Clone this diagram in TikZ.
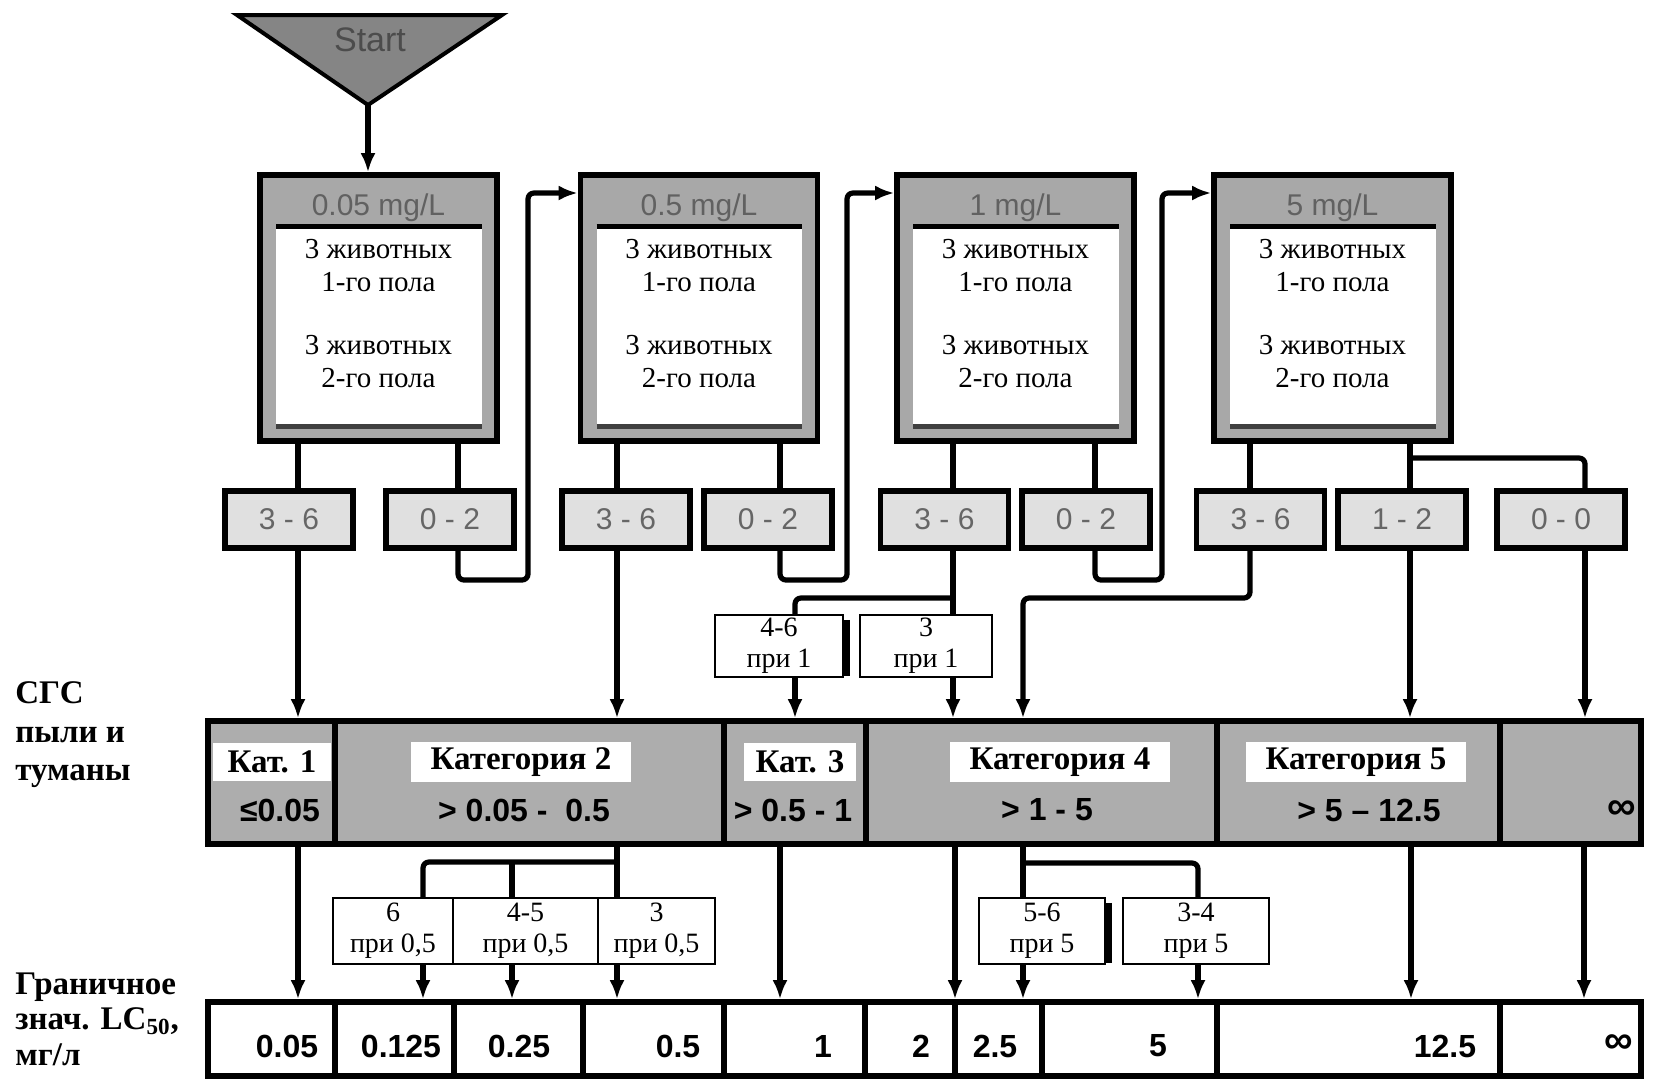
\documentclass[tikz,border=0pt]{standalone}
\usepackage{fontspec}
\setmainfont{Liberation Serif}
\setsansfont{Liberation Sans}
\usetikzlibrary{arrows.meta}
\definecolor{gbox}{gray}{0.66}
\definecolor{gcat}{gray}{0.68}
\definecolor{gtri}{gray}{0.52}
\definecolor{gsmall}{gray}{0.88}
\begin{document}
\begin{tikzpicture}[x=0.5pt,y=-0.5pt,
  conn/.style={line width=2.6pt, rounded corners=3pt},
  arr/.style={conn,-{Latex[length=9.5pt,width=7.5pt]}},
  bigbox/.style={draw,line width=2.8pt,fill=gbox,minimum width=118.5pt,minimum height=133pt,inner sep=0pt},
  hdr/.style={font=\sffamily\fontsize{15}{18}\selectfont,text=black!62},
  body/.style={font=\fontsize{14.5}{16.5}\selectfont,align=center},
  smallbox/.style={draw,line width=2.8pt,fill=gsmall,minimum width=64pt,minimum height=28.5pt,inner sep=0pt,font=\sffamily\fontsize{15}{18}\selectfont,text=black!60},
  subbox/.style={draw,line width=1.2pt,fill=white,minimum height=31pt,inner sep=0pt,align=center,font=\fontsize{14}{15.5}\selectfont},
  bar/.style={draw,line width=2.8pt,minimum width=716.5pt,inner sep=0pt},
  divline/.style={line width=2.6pt},
  cattitle/.style={fill=white,inner xsep=10pt,inner ysep=3pt,minimum height=19pt,font=\bfseries\fontsize{16.5}{18}\selectfont},
  catnum/.style={font=\sffamily\bfseries\fontsize{16}{18}\selectfont},
  lcnum/.style={font=\sffamily\bfseries\fontsize{16}{18}\selectfont},
  sidelabel/.style={anchor=west,align=left,inner sep=0pt},
]
\useasboundingbox (0,0) rectangle (1654,1089);

% Start triangle
\draw[line width=2pt,fill=gtri] (237,15) -- (502,15) -- (368,105) -- cycle;
\node[font=\sffamily\fontsize{17}{20}\selectfont,text=black!70] (start) at (370,40) {Start};
\coordinate (apex) at (368,105);

% big boxes
\foreach \n/\cx/\hd in {b1/378.5/{0.05 mg/L}, b2/699/{0.5 mg/L}, b3/1015.5/{1 mg/L}, b4/1332.5/{5 mg/L}}{
  \node[bigbox] (\n) at (\cx,308) {};
  \fill[white] ([xshift=9.5pt,yshift=-27pt]\n.north west) rectangle ([xshift=-9pt,yshift=8.5pt]\n.south east);
  \draw[line width=2.4pt] ([xshift=9.5pt,yshift=-27pt]\n.north west) -- ([xshift=-9pt,yshift=-27pt]\n.north east);
  \draw[line width=2.4pt,black!75] ([xshift=9.5pt,yshift=8.5pt]\n.south west) -- ([xshift=-9pt,yshift=8.5pt]\n.south east);
  \node[hdr] (\n-h) at (\cx,208) {\hd};
  \node[body] (\n-t) at (\cx,314) {3 животных\\1-го пола\\[15pt]3 животных\\2-го пола};
}

% small boxes
\node[smallbox] (s1a) at (289,519.5) {3 - 6};
\node[smallbox] (s1b) at (450,519.5) {0 - 2};
\node[smallbox] (s2a) at (626,519.5) {3 - 6};
\node[smallbox] (s2b) at (768,519.5) {0 - 2};
\node[smallbox] (s3a) at (944.5,519.5) {3 - 6};
\node[smallbox] (s3b) at (1086,519.5) {0 - 2};
\node[smallbox] (s4a) at (1260.5,519.5) {3 - 6};
\node[smallbox] (s4b) at (1402,519.5) {1 - 2};
\node[smallbox] (s4c) at (1561,519.5) {0 - 0};

% sub boxes (при 1)
\node[subbox,minimum width=64pt] (p1) at (779,646) {4-6\\при 1};
\node[subbox,minimum width=66pt] (p2) at (926,646) {3\\при 1};
\draw[line width=3pt] ([xshift=1.2pt,yshift=-3pt]p1.north east) -- ([xshift=1.2pt,yshift=1pt]p1.south east);

% category bar
\node[bar,fill=gcat,minimum height=61.5pt] (cat) at (924.5,782.5) {};
\foreach \x in {335,724,866,1217,1500} \draw[divline] (\x,0 |- cat.north) -- (\x,0 |- cat.south);
\node[cattitle,minimum width=59pt,inner xsep=0pt] (c1) at (272,762) {Кат. 1};
\node[cattitle] (c2) at (521,762) {Категория 2};
\node[cattitle,inner xsep=6pt] (c3) at (800,762) {Кат. 3};
\node[cattitle] (c4) at (1060,762) {Категория 4};
\node[cattitle] (c5) at (1356,762) {Категория 5};
\node[catnum] (n1) at (280,810) {≤0.05};
\node[catnum] (n2) at (524,810) {> 0.05 -\ \ 0.5};
\node[catnum] (n3) at (793,810) {> 0.5 - 1};
\node[catnum] (n4) at (1047,810) {> 1 - 5};
\node[catnum] (n5) at (1369,810) {> 5 – 12.5};
\node[catnum,font=\sffamily\bfseries\fontsize{20}{20}\selectfont] (n6) at (1622,810) {∞};

% sub boxes below
\node[subbox,minimum width=60pt,minimum height=33pt] (q1) at (393,931) {6\\при 0,5};
\node[subbox,minimum width=72.5pt,minimum height=33pt] (q2) at (525.5,931) {4-5\\при 0,5};
\node[subbox,minimum width=58.5pt,minimum height=33pt] (q3) at (656.5,931) {3\\при 0,5};
\node[subbox,minimum width=63pt,minimum height=33pt] (r1) at (1042,931) {5-6\\при 5};
\node[subbox,minimum width=73pt,minimum height=33pt] (r2) at (1196,931) {3-4\\при 5};
\draw[line width=3pt] ([xshift=1.2pt,yshift=-3pt]r1.north east) -- ([xshift=1.2pt,yshift=1pt]r1.south east);

% LC bar
\node[bar,fill=white,minimum height=37pt] (lc) at (924.5,1039) {};
\foreach \x in {335,454,583,724,865,955,1042,1217,1500} \draw[divline] (\x,0 |- lc.north) -- (\x,0 |- lc.south);
\foreach \x/\t in {287/0.05, 401/0.125, 519/0.25, 678/0.5, 823/1, 921/2, 995/2.5, 1158/5, 1445/12.5}
  \node[lcnum] (lc-\x) at (\x,1046) {\t};
\node[lcnum,font=\sffamily\bfseries\fontsize{20}{20}\selectfont] (lc-inf) at (1619,1044) {∞};

% side labels
\node[sidelabel,font=\bfseries\fontsize{16.5}{19.25}\selectfont] (lab1) at (15,735) {СГС\\пыли и\\туманы};
\node[sidelabel,font=\bfseries\fontsize{16.5}{17.75}\selectfont] (lab2) at (15,1019) {Граничное\\знач. LC\textsubscript{50},\\мг/л};

% connectors top
\draw[arr] (apex) -- (apex |- b1.north);
\draw[conn] (298,0 |- b1.south) -- (298,0 |- s1a.north);
\draw[conn] (458,0 |- b1.south) -- (458,0 |- s1b.north);
\draw[conn] (617,0 |- b2.south) -- (617,0 |- s2a.north);
\draw[conn] (780,0 |- b2.south) -- (780,0 |- s2b.north);
\draw[conn] (953,0 |- b3.south) -- (953,0 |- s3a.north);
\draw[conn] (1095,0 |- b3.south) -- (1095,0 |- s3b.north);
\draw[conn] (1250,0 |- b4.south) -- (1250,0 |- s4a.north);
\draw[conn] (1410,0 |- b4.south) -- (1410,0 |- s4b.north);
\draw[conn] (1410,458) -- (1585,458) -- (1585,0 |- s4c.north);

% loops back to next box
\draw[arr] (458,0 |- s1b.south) -- (458,580) -- (528,580) -- (528,193) -- (528,193 -| b2.west);
\draw[arr] (780,0 |- s2b.south) -- (780,580) -- (847,580) -- (847,193) -- (847,193 -| b3.west);
\draw[arr] (1095,0 |- s3b.south) -- (1095,580) -- (1162,580) -- (1162,193) -- (1162,193 -| b4.west);

% down to category bar
\draw[arr] (298,0 |- s1a.south) -- (298,0 |- cat.north);
\draw[arr] (617,0 |- s2a.south) -- (617,0 |- cat.north);
\draw[conn] (953,0 |- s3a.south) -- (953,0 |- p2.north);
\draw[conn] (953,598) -- (795,598) -- (795,0 |- p1.north);
\draw[arr] (795,0 |- p1.south) -- (795,0 |- cat.north);
\draw[arr] (953,0 |- p2.south) -- (953,0 |- cat.north);
\draw[arr] (1250,0 |- s4a.south) -- (1250,598) -- (1023,598) -- (1023,0 |- cat.north);
\draw[arr] (1410,0 |- s4b.south) -- (1410,0 |- cat.north);
\draw[arr] (1585,0 |- s4c.south) -- (1585,0 |- cat.north);

% below category bar
\draw[arr] (298,0 |- cat.south) -- (298,0 |- lc.north);
\draw[conn] (617,0 |- cat.south) -- (617,0 |- q3.north);
\draw[conn] (617,862) -- (423,862) -- (423,0 |- q1.north);
\draw[conn] (512,862) -- (512,0 |- q2.north);
\draw[arr] (423,0 |- q1.south) -- (423,0 |- lc.north);
\draw[arr] (512,0 |- q2.south) -- (512,0 |- lc.north);
\draw[arr] (617,0 |- q3.south) -- (617,0 |- lc.north);
\draw[arr] (780,0 |- cat.south) -- (780,0 |- lc.north);
\draw[arr] (955,0 |- cat.south) -- (955,0 |- lc.north);
\draw[conn] (1023,0 |- cat.south) -- (1023,0 |- r1.north);
\draw[conn] (1023,863) -- (1198,863) -- (1198,0 |- r2.north);
\draw[arr] (1023,0 |- r1.south) -- (1023,0 |- lc.north);
\draw[arr] (1198,0 |- r2.south) -- (1198,0 |- lc.north);
\draw[arr] (1411,0 |- cat.south) -- (1411,0 |- lc.north);
\draw[arr] (1584,0 |- cat.south) -- (1584,0 |- lc.north);
\end{tikzpicture}
\end{document}
